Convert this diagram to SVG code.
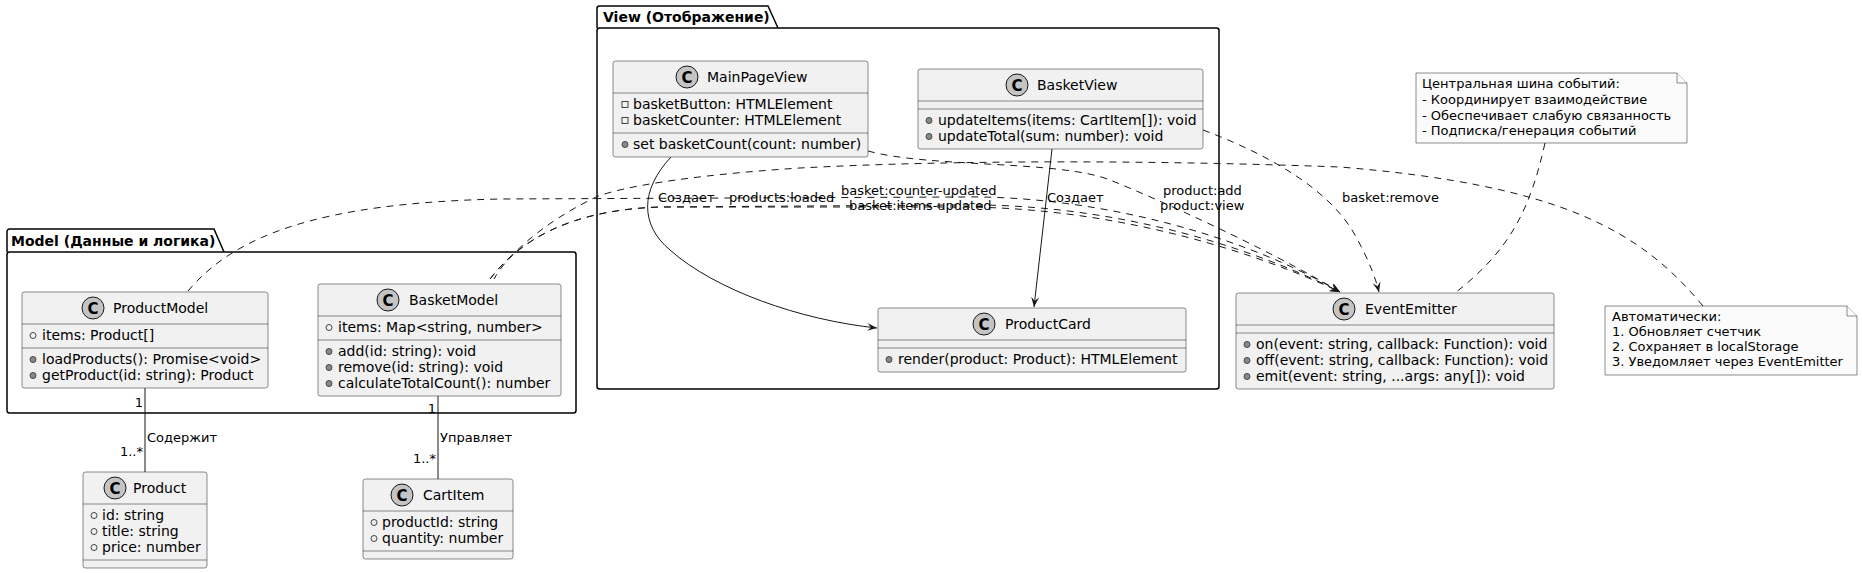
<svg xmlns="http://www.w3.org/2000/svg" width="1862" height="573" viewBox="0 0 1862 573">
<defs>
<style>
text{font-family:"DejaVu Sans","Liberation Sans",sans-serif;fill:#000}
.cls{fill:#F1F1F1;stroke:#181818;stroke-width:0.5}
.sep{stroke:#181818;stroke-width:0.5}
.ttl{font-size:14px}
.mem{font-size:14px}
.ci{fill:#C4C4C4;stroke:#181818;stroke-width:1}
.cg{font-size:15px;font-weight:bold;text-anchor:middle}
.fi{fill:none;stroke:#444;stroke-width:1}
.me{fill:#888;stroke:#444;stroke-width:1}
.pkg{fill:none;stroke:#000;stroke-width:1.5}
.pt{font-size:14px;font-weight:bold}
.note{fill:#FBFBFB;stroke:#181818;stroke-width:0.5}
.nt{font-size:13px}
.lbl{font-size:13px}
.rt{text-anchor:end}
.solid{fill:none;stroke:#181818;stroke-width:1}
.dash{fill:none;stroke:#181818;stroke-width:1;stroke-dasharray:7,6}
</style>
<marker id="arr" viewBox="0 0 10 10" refX="10" refY="5" markerWidth="10" markerHeight="10" markerUnits="userSpaceOnUse" orient="auto"><path d="M0,1 L10,5 L0,9 L4,5 Z" fill="#181818"/></marker>
</defs>
<rect x="0" y="0" width="1862" height="573" fill="#FFFFFF"/>

<g id="pkg-model">
<rect class="pkg" x="7" y="252" width="569" height="161" rx="2.5"/>
<path class="pkg" d="M7,252 L7,231.5 A2.5,2.5 0 0 1 9.5,229 L214,229 L224,252"/>
<text class="pt" x="11" y="246">Model (Данные и логика)</text>
</g>
<g id="pkg-view">
<rect class="pkg" x="597" y="28" width="622" height="361" rx="2.5"/>
<path class="pkg" d="M597,28 L597,8.5 A2.5,2.5 0 0 1 599.5,6 L768,6 L778,28"/>
<text class="pt" x="603" y="22">View (Отображение)</text>
</g>

<g id="connectors">
<path class="dash" marker-end="url(#arr)" d="M188,291 C235,235 320,203 500,199 L960,197 C1080,195 1230,228 1340,292"/>
<path class="dash" marker-end="url(#arr)" d="M490,279 C520,240 570,210 660,207 L960,205 C1090,203 1230,236 1340,292"/>
<path class="dash" marker-end="url(#arr)" d="M490,279 C520,240 570,210 660,207 L960,207 C1090,207 1230,240 1340,292"/>
<path class="dash" marker-end="url(#arr)" d="M868,151 C930,168 1060,160 1110,180 C1160,200 1270,250 1340,292"/>
<path class="dash" marker-end="url(#arr)" d="M1203,130 C1270,155 1330,190 1355,235 C1370,262 1376,280 1379,292"/>
<path class="solid" marker-end="url(#arr)" d="M671,157 C640,190 640,225 670,250 C715,290 800,320 877,328"/>
<path class="solid" marker-end="url(#arr)" d="M1052,149 L1034,307"/>
<path class="dash" d="M1545,143 C1530,210 1510,250 1455,293"/>
<path class="dash" d="M1703,306 C1640,230 1560,185 1340,167 C1150,160 950,160 800,168 C690,175 610,188 590,200 C540,225 505,258 494,279"/>
<path class="solid" d="M145,388 L145,472"/>
<path class="solid" d="M438,396 L438,479"/>
<text class="lbl" x="658" y="202">Создает</text>
<text class="lbl" x="729" y="202">products:loaded</text>
<text class="lbl" x="841" y="195">basket:counter-updated</text>
<text class="lbl" x="849" y="210">basket:items-updated</text>
<text class="lbl" x="1047" y="202">Создает</text>
<text class="lbl" x="1163" y="195">product:add</text>
<text class="lbl" x="1160" y="210">product:view</text>
<text class="lbl" x="1342" y="202">basket:remove</text>
<text class="lbl rt" x="143" y="407">1</text>
<text class="lbl" x="147" y="442">Содержит</text>
<text class="lbl rt" x="143" y="456">1..*</text>
<text class="lbl rt" x="436" y="413">1</text>
<text class="lbl" x="440" y="442">Управляет</text>
<text class="lbl rt" x="436" y="463">1..*</text>
</g>

<g id="ProductModel">
<rect class="cls" x="22" y="292" width="246" height="96" rx="2.5"/>
<line class="sep" x1="22" y1="324" x2="268" y2="324"/>
<line class="sep" x1="22" y1="348" x2="268" y2="348"/>
<circle class="ci" cx="93" cy="308" r="11"/><text class="cg" x="93" y="313.5">C</text>
<text class="ttl" x="113" y="313">ProductModel</text>
<circle class="fi" cx="33" cy="335.5" r="3"/><text class="mem" x="42" y="340">items: Product[]</text>
<circle class="me" cx="33" cy="359.5" r="3"/><text class="mem" x="42" y="364">loadProducts(): Promise&lt;void&gt;</text>
<circle class="me" cx="33" cy="375.5" r="3"/><text class="mem" x="42" y="380">getProduct(id: string): Product</text>
</g>

<g id="BasketModel">
<rect class="cls" x="318" y="284" width="243" height="112" rx="2.5"/>
<line class="sep" x1="318" y1="316" x2="561" y2="316"/>
<line class="sep" x1="318" y1="340" x2="561" y2="340"/>
<circle class="ci" cx="388" cy="300" r="11"/><text class="cg" x="388" y="305.5">C</text>
<text class="ttl" x="409" y="305">BasketModel</text>
<circle class="fi" cx="329" cy="327.5" r="3"/><text class="mem" x="338" y="332">items: Map&lt;string, number&gt;</text>
<circle class="me" cx="329" cy="351.5" r="3"/><text class="mem" x="338" y="356">add(id: string): void</text>
<circle class="me" cx="329" cy="367.5" r="3"/><text class="mem" x="338" y="372">remove(id: string): void</text>
<circle class="me" cx="329" cy="383.5" r="3"/><text class="mem" x="338" y="388">calculateTotalCount(): number</text>
</g>

<g id="Product">
<rect class="cls" x="83" y="472" width="124" height="96" rx="2.5"/>
<line class="sep" x1="83" y1="504" x2="207" y2="504"/>
<line class="sep" x1="83" y1="560" x2="207" y2="560"/>
<circle class="ci" cx="115" cy="488" r="11"/><text class="cg" x="115" y="493.5">C</text>
<text class="ttl" x="133" y="493">Product</text>
<circle class="fi" cx="94" cy="515.5" r="3"/><text class="mem" x="102" y="520">id: string</text>
<circle class="fi" cx="94" cy="531.5" r="3"/><text class="mem" x="102" y="536">title: string</text>
<circle class="fi" cx="94" cy="547.5" r="3"/><text class="mem" x="102" y="552">price: number</text>
</g>

<g id="CartItem">
<rect class="cls" x="363" y="479" width="150" height="80" rx="2.5"/>
<line class="sep" x1="363" y1="511" x2="513" y2="511"/>
<line class="sep" x1="363" y1="551" x2="513" y2="551"/>
<circle class="ci" cx="402" cy="495" r="11"/><text class="cg" x="402" y="500.5">C</text>
<text class="ttl" x="423" y="500">CartItem</text>
<circle class="fi" cx="374" cy="522.5" r="3"/><text class="mem" x="382" y="527">productId: string</text>
<circle class="fi" cx="374" cy="538.5" r="3"/><text class="mem" x="382" y="543">quantity: number</text>
</g>

<g id="MainPageView">
<rect class="cls" x="613" y="61" width="255" height="96" rx="2.5"/>
<line class="sep" x1="613" y1="93" x2="868" y2="93"/>
<line class="sep" x1="613" y1="133" x2="868" y2="133"/>
<circle class="ci" cx="687" cy="77" r="11"/><text class="cg" x="687" y="82.5">C</text>
<text class="ttl" x="707" y="82">MainPageView</text>
<rect class="fi" x="622" y="101.5" width="6" height="6"/><text class="mem" x="633" y="109">basketButton: HTMLElement</text>
<rect class="fi" x="622" y="117.5" width="6" height="6"/><text class="mem" x="633" y="125">basketCounter: HTMLElement</text>
<circle class="me" cx="625" cy="144.5" r="3"/><text class="mem" x="633" y="149">set basketCount(count: number)</text>
</g>

<g id="BasketView">
<rect class="cls" x="918" y="69" width="285" height="80" rx="2.5"/>
<line class="sep" x1="918" y1="101" x2="1203" y2="101"/>
<line class="sep" x1="918" y1="109" x2="1203" y2="109"/>
<circle class="ci" cx="1017" cy="85" r="11"/><text class="cg" x="1017" y="90.5">C</text>
<text class="ttl" x="1037" y="90">BasketView</text>
<circle class="me" cx="929" cy="120.5" r="3"/><text class="mem" x="938" y="125">updateItems(items: CartItem[]): void</text>
<circle class="me" cx="929" cy="136.5" r="3"/><text class="mem" x="938" y="141">updateTotal(sum: number): void</text>
</g>

<g id="ProductCard">
<rect class="cls" x="878" y="308" width="308" height="64" rx="2.5"/>
<line class="sep" x1="878" y1="340" x2="1186" y2="340"/>
<line class="sep" x1="878" y1="348" x2="1186" y2="348"/>
<circle class="ci" cx="984" cy="324" r="11"/><text class="cg" x="984" y="329.5">C</text>
<text class="ttl" x="1005" y="329">ProductCard</text>
<circle class="me" cx="889" cy="359.5" r="3"/><text class="mem" x="898" y="364">render(product: Product): HTMLElement</text>
</g>

<g id="EventEmitter">
<rect class="cls" x="1236" y="293" width="318" height="96" rx="2.5"/>
<line class="sep" x1="1236" y1="325" x2="1554" y2="325"/>
<line class="sep" x1="1236" y1="333" x2="1554" y2="333"/>
<circle class="ci" cx="1344" cy="309" r="11"/><text class="cg" x="1344" y="314.5">C</text>
<text class="ttl" x="1365" y="314">EventEmitter</text>
<circle class="me" cx="1247" cy="344.5" r="3"/><text class="mem" x="1256" y="349">on(event: string, callback: Function): void</text>
<circle class="me" cx="1247" cy="360.5" r="3"/><text class="mem" x="1256" y="365">off(event: string, callback: Function): void</text>
<circle class="me" cx="1247" cy="376.5" r="3"/><text class="mem" x="1256" y="381">emit(event: string, ...args: any[]): void</text>
</g>

<g id="note-eventbus">
<path class="note" d="M1416,73 L1677,73 L1687,83 L1687,143 L1416,143 Z"/>
<path class="note" d="M1677,73 L1677,83 L1687,83"/>
<text class="nt" x="1422" y="88">Центральная шина событий:</text>
<text class="nt" x="1422" y="104">- Координирует взаимодействие</text>
<text class="nt" x="1422" y="120">- Обеспечивает слабую связанность</text>
<text class="nt" x="1422" y="135">- Подписка/генерация событий</text>
</g>

<g id="note-auto">
<path class="note" d="M1605,306 L1847,306 L1857,316 L1857,375 L1605,375 Z"/>
<path class="note" d="M1847,306 L1847,316 L1857,316"/>
<text class="nt" x="1612" y="321">Автоматически:</text>
<text class="nt" x="1612" y="336">1. Обновляет счетчик</text>
<text class="nt" x="1612" y="351">2. Сохраняет в localStorage</text>
<text class="nt" x="1612" y="366">3. Уведомляет через EventEmitter</text>
</g>
</svg>
